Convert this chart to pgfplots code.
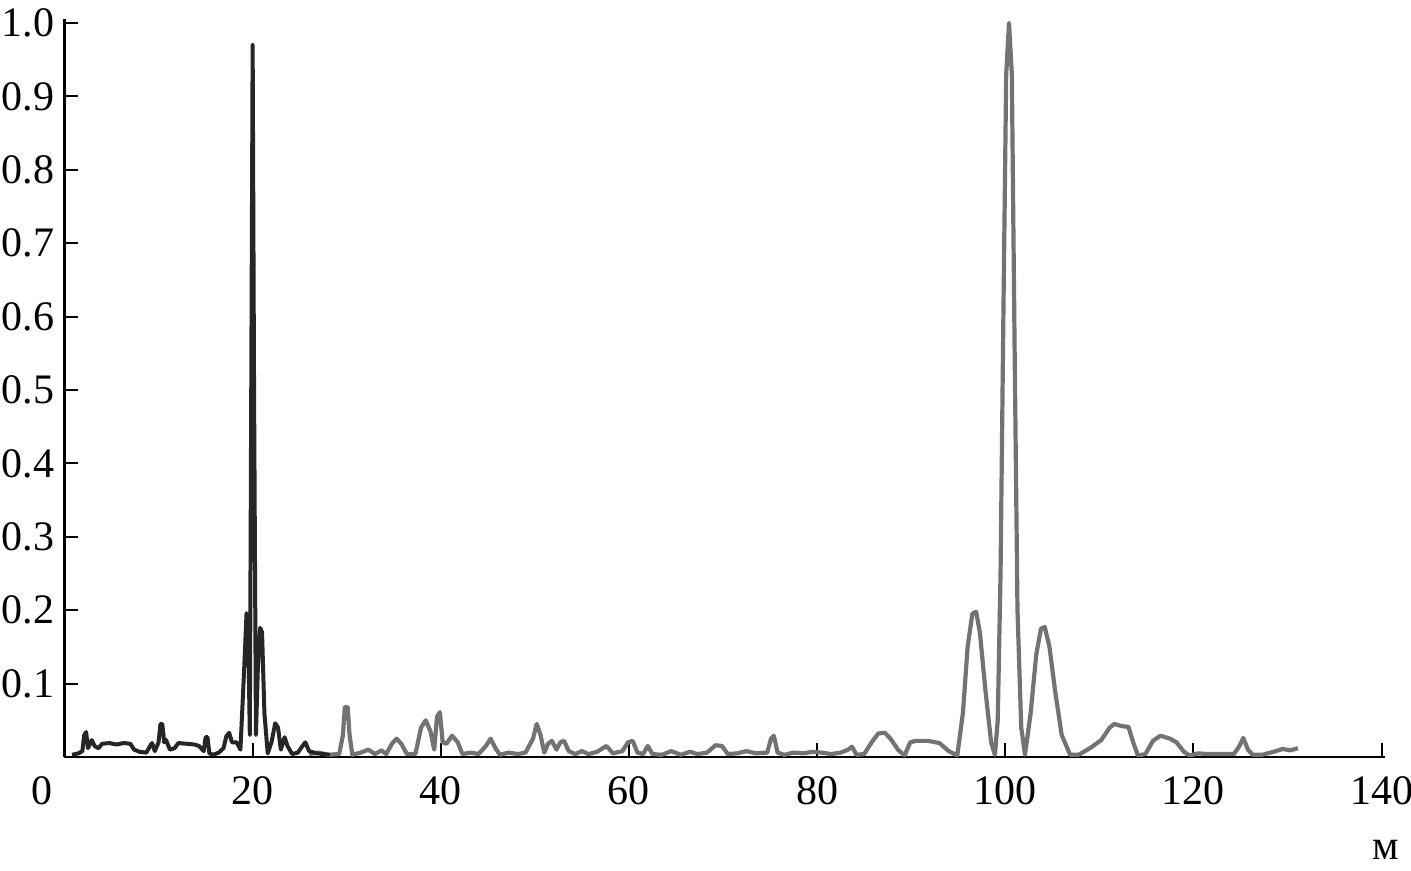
\documentclass[border=0pt]{standalone}
\usepackage{fontspec}
\setmainfont{Liberation Serif}
\usepackage{pgfplots}
\pgfplotsset{compat=1.18}
\begin{document}
\fontsize{21}{25}\selectfont
\begin{tikzpicture}
\begin{axis}[
  scale only axis,
  width=660.4pt, height=368.8pt,
  xmin=0, xmax=140.4, ymin=0, ymax=1.005,
  clip mode=individual,
  axis x line*=bottom, axis y line*=left,
  axis line style={-, line width=1.2pt, black},
  xtick={20,40,60,80,100,120,140},
  ytick={0.1,0.2,0.3,0.4,0.5,0.6,0.7,0.8,0.9,1.0},
  yticklabel style={/pgf/number format/fixed, /pgf/number format/fixed zerofill, /pgf/number format/precision=1, xshift=2pt},
  xticklabel style={yshift=-2.5pt},
  /pgf/number format/assume math mode=true,
  tick align=inside,
  major tick length=7pt,
  tick style={line width=1pt, black},
  every tick label/.append style={font=\fontsize{21}{25}\selectfont},
]
% grey series
\addplot[black!55, line width=2.1pt, line join=round] coordinates {
(26.0,0.004)(27.0,0.006)(28.0,0.003)(29.2,0.004)(29.6,0.03)(29.8,0.068)(30.1,0.068)(30.3,0.03)(30.6,0.003)
(31.5,0.006)(32.3,0.01)(33.0,0.004)(33.7,0.009)(34.2,0.004)(34.8,0.018)(35.3,0.025)(35.8,0.018)(36.4,0.004)
(37.3,0.004)(37.9,0.04)(38.4,0.05)(38.9,0.035)(39.3,0.01)(39.6,0.055)(39.9,0.061)(40.2,0.02)(40.6,0.018)
(41.2,0.029)(41.8,0.02)(42.3,0.004)(43.2,0.006)(44.0,0.004)(44.8,0.015)(45.3,0.025)(45.8,0.012)(46.3,0.003)
(47.2,0.006)(48.2,0.004)(49.0,0.006)(49.8,0.025)(50.2,0.045)(50.6,0.03)(51.0,0.006)(51.4,0.018)(51.8,0.022)
(52.3,0.01)(52.7,0.02)(53.1,0.022)(53.6,0.008)(54.3,0.004)(55.0,0.008)(55.7,0.004)(56.6,0.007)(57.6,0.015)
(58.3,0.005)(59.3,0.008)(59.9,0.02)(60.4,0.022)(60.9,0.006)(61.5,0.004)(62.0,0.015)(62.5,0.004)(63.5,0.003)
(64.5,0.008)(65.5,0.003)(66.5,0.007)(67.3,0.004)(68.3,0.006)(69.2,0.016)(69.9,0.015)(70.5,0.004)(71.5,0.005)
(72.5,0.008)(73.5,0.005)(74.7,0.006)(75.1,0.025)(75.4,0.029)(75.8,0.006)(76.5,0.003)(77.5,0.006)(78.5,0.005)
(79.5,0.007)(80.5,0.006)(81.5,0.004)(82.5,0.006)(83.3,0.01)(83.7,0.014)(84.2,0.003)(85.0,0.004)(85.8,0.02)
(86.5,0.032)(87.2,0.033)(87.8,0.025)(88.6,0.01)(89.3,0.002)(89.9,0.02)(90.5,0.022)(91.8,0.022)(93.0,0.019)
(94.0,0.008)(94.9,0.002)
(95.5,0.06)(96.0,0.15)(96.5,0.195)(96.9,0.198)(97.3,0.17)(97.9,0.09)(98.5,0.02)(98.9,0.003)
(99.2,0.05)(99.5,0.25)(99.8,0.6)(100.1,0.93)(100.4,1.0)(100.7,0.93)(101.0,0.55)(101.3,0.2)(101.7,0.04)(102.1,0.003)
(102.7,0.06)(103.3,0.14)(103.8,0.175)(104.2,0.177)(104.7,0.15)(105.3,0.09)(106.0,0.03)(106.9,0.003)
(107.8,0.003)(109.0,0.012)(110.2,0.023)(111.1,0.04)(111.6,0.045)(112.4,0.042)(113.1,0.041)(113.6,0.02)(114.1,0.002)
(114.9,0.004)(115.7,0.022)(116.5,0.029)(117.5,0.025)(118.2,0.02)(119.0,0.007)(119.6,0.002)(120.5,0.005)
(121.5,0.004)(123.0,0.004)(124.3,0.004)(124.9,0.015)(125.3,0.026)(125.8,0.01)(126.3,0.003)(127.3,0.003)
(128.5,0.007)(129.5,0.011)(130.3,0.009)(131.1,0.012)
};
% dark series
\addplot[black!85, line width=2pt, line join=round] coordinates {
(0.8,0.003)(1.5,0.005)(1.9,0.008)(2.1,0.03)(2.3,0.034)(2.5,0.012)(2.9,0.023)(3.2,0.015)(3.6,0.012)(4.0,0.018)
(4.8,0.019)(5.5,0.017)(6.3,0.019)(7.0,0.018)(7.4,0.01)(8.0,0.007)(8.7,0.006)(9.1,0.015)(9.3,0.019)(9.6,0.008)
(10.0,0.02)(10.2,0.045)(10.4,0.045)(10.6,0.02)(10.8,0.023)(11.2,0.01)(11.7,0.012)(12.1,0.019)(13.0,0.018)
(13.8,0.017)(14.3,0.015)(14.8,0.008)(15.0,0.027)(15.2,0.027)(15.4,0.005)(15.8,0.003)(16.4,0.006)(16.9,0.012)
(17.2,0.028)(17.5,0.033)(17.8,0.02)(18.3,0.02)(18.7,0.01)(19.1,0.12)(19.35,0.196)(19.55,0.15)(19.7,0.03)
(19.85,0.5)(20.0,0.97)(20.15,0.5)(20.35,0.03)(20.55,0.12)(20.8,0.176)(21.0,0.17)(21.25,0.06)(21.6,0.005)
(22.0,0.02)(22.4,0.046)(22.7,0.04)(23.0,0.01)(23.4,0.027)(23.7,0.015)(24.2,0.004)(24.8,0.006)(25.3,0.015)
(25.6,0.02)(26.0,0.008)(26.8,0.005)(27.5,0.004)(28.2,0.003)
};
\node[anchor=north, inner sep=0.333em, xshift=-11.25pt, yshift=-2.5pt] at (axis cs:0,0) {0};
\node[anchor=center, yshift=-46.5pt] at (axis cs:140.4,0) {м};
\end{axis}
\pgfresetboundingbox
\path[use as bounding box] (-32.25pt,-57pt) rectangle (673.25pt,378.5pt);
\end{tikzpicture}
\end{document}
